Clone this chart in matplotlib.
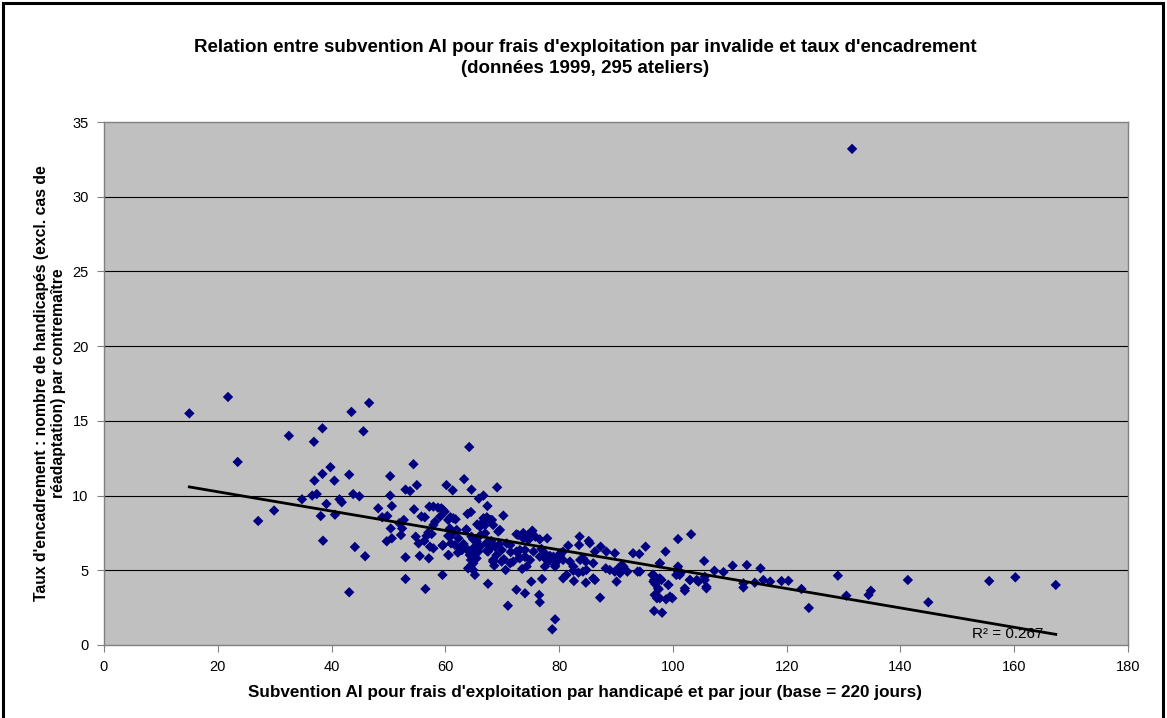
import numpy as np
import matplotlib
matplotlib.use("Agg")
import matplotlib.pyplot as plt
from matplotlib.patches import Rectangle

plt.rcParams['font.family'] = ['Liberation Sans', 'DejaVu Sans']

title = "Relation entre subvention AI pour frais d'exploitation par invalide et taux d'encadrement\n(données 1999, 295 ateliers)"
xlabel = "Subvention AI pour frais d'exploitation par handicapé et par jour (base = 220 jours)"
ylabel = "Taux d'encadrement : nombre de handicapés (excl. cas de\nréadaptation) par contremaître"
r2_label = "R² = 0.267"
x_ticks = [0, 20, 40, 60, 80, 100, 120, 140, 160, 180]
y_ticks = [0, 5, 10, 15, 20, 25, 30, 35]

subvention = [
    15.0, 21.8, 23.5, 27.1, 29.9, 32.5, 36.9, 38.4, 43.5, 46.6, 45.6, 39.8, 38.4, 37.0, 40.5, 43.1,
    34.8, 36.6, 37.4, 39.1, 41.4, 41.8, 43.8, 44.9, 38.1, 40.6, 38.5, 44.1, 45.9, 43.1, 131.5,
    64.2, 54.4, 50.3, 63.3, 53.0, 53.8, 55.0, 60.2, 61.3, 64.6, 69.1, 50.3, 65.9, 66.7, 67.4,
    48.2, 50.6, 54.5, 57.2, 58.7, 59.6, 63.9, 64.5, 70.2, 48.9, 49.8, 59.1, 52.7, 51.9, 55.8,
    56.4, 60.9, 61.8, 67.3, 68.2, 66.4, 58.2, 57.9, 50.4, 52.4, 52.2, 60.8, 62.0, 63.7, 65.6,
    66.1, 69.6, 72.5, 73.7, 75.3, 74.5, 76.6, 77.9, 49.7, 50.6, 54.8, 56.7, 57.0, 57.6, 55.3,
    56.3, 57.3, 59.5, 60.5, 61.2, 61.0, 63.2, 62.7, 63.7, 64.9, 65.5, 66.2, 67.0, 67.4, 68.1,
    68.7, 69.5, 70.8, 53.0, 55.5, 57.1, 60.6, 62.2, 62.9, 64.3, 65.2, 65.8, 64.5, 64.9, 64.0,
    64.9, 65.2, 67.3, 68.1, 68.4, 68.6, 70.3, 70.6, 71.5, 71.9, 73.0, 74.0, 74.9, 73.5, 75.5,
    76.9, 77.6, 78.4, 79.6, 77.5, 79.3, 53.0, 59.5, 56.5, 67.5, 72.5, 74.0, 75.1, 77.0, 76.5,
    76.6, 71.0, 79.3, 78.8,
    83.6, 83.5, 85.2, 85.4, 87.3, 89.8, 88.3, 86.3, 81.6, 80.2, 80.7, 79.3, 81.9, 82.5, 83.7,
    84.2, 84.7, 86.0, 82.5, 83.4, 84.2, 84.8, 80.7, 81.3, 82.6, 84.7, 86.0, 86.3, 87.2, 88.2,
    88.9, 89.8, 90.4, 91.0, 91.3, 92.0, 90.1, 90.7, 93.0, 94.1, 95.2, 93.8, 94.2, 98.7, 97.7,
    100.9, 103.2, 96.4, 96.7, 96.9, 98.0, 97.5, 99.2, 97.2, 98.8, 99.9, 96.7, 98.1, 100.9, 100.6,
    101.4, 102.1, 103.0, 104.2, 105.5, 105.6, 105.9, 107.3, 108.9, 110.5, 113.0, 112.4, 112.4, 115.4,
    114.4, 115.9, 117.1, 119.1, 120.3, 122.6, 123.9, 129.0, 130.5, 134.4, 134.8, 141.3, 144.9,
    155.6, 160.2, 167.3,
    57.9, 59.3, 59.9, 61.4, 60.5, 66.7, 67.9, 67.0, 66.1, 68.4, 69.3, 63.7, 62.3, 60.8, 61.7,
    59.6, 60.5, 57.9, 62.9, 64.6, 65.5, 64.9, 66.1, 67.2, 68.1, 67.5, 69.0, 69.9, 71.4, 72.5,
    74.0, 72.8, 73.7, 64.3, 65.5, 64.6, 68.4, 69.9, 71.4, 73.1, 74.3,
    96.6, 97.7, 96.6, 97.7, 97.4, 99.2, 96.8, 100.9, 101.2, 102.1, 103.0, 104.5, 105.6, 105.9,
    99.5, 97.7,
    73.7, 75.2, 75.8, 74.6, 73.1, 74.0, 76.6, 77.5, 78.1, 79.0, 80.2, 80.7,
]

taux = [
    15.5, 16.6, 12.25, 8.3, 9.0, 14.0, 13.6, 14.5, 15.6, 16.2, 14.3, 11.9, 11.45, 11.0, 11.0, 11.4,
    9.75, 10.0, 10.1, 9.44, 9.75, 9.55, 10.1, 9.95, 8.63, 8.72, 6.98, 6.56, 5.94, 3.53, 33.2,
    13.25, 12.1, 11.3, 11.1, 10.4, 10.3, 10.7, 10.7, 10.35, 10.4, 10.55, 10.0, 9.8, 10.0, 9.3,
    9.15, 9.3, 9.08, 9.26, 9.19, 9.04, 8.77, 8.9, 8.66, 8.55, 8.63, 8.6, 8.37, 8.15, 8.6,
    8.55, 8.55, 8.41, 8.55, 8.37, 8.15, 8.25, 8.03, 7.8, 7.8, 7.36, 7.8, 7.7, 7.74, 8.07,
    7.96, 7.7, 7.41, 7.48, 7.65, 7.36, 7.07, 7.14, 6.94, 7.14, 7.25, 7.3, 7.52, 7.43, 6.8,
    6.96, 6.58, 6.65, 7.3, 7.43, 6.8, 6.76, 6.51, 6.47, 7.07, 6.92, 7.36, 7.48, 6.8, 6.96,
    6.58, 6.74, 6.8, 5.87, 5.96, 5.8, 6.02, 6.18, 6.36, 6.18, 6.09, 6.25, 5.69, 5.47, 5.13,
    5.02, 4.69, 6.31, 6.58, 5.69, 5.31, 5.74, 5.02, 6.22, 5.58, 5.84, 5.91, 5.69, 5.09, 6.25,
    6.43, 5.76, 5.96, 5.58, 5.25, 5.25, 4.42, 4.69, 3.75, 4.1, 3.7, 3.46, 4.24, 4.42, 3.35,
    2.86, 2.63, 1.72, 1.05,
    7.25, 6.69, 6.96, 6.81, 6.58, 6.14, 6.25, 6.25, 6.65, 6.14, 5.69, 5.35, 5.58, 5.25, 5.69,
    5.8, 5.58, 5.47, 4.97, 4.84, 4.91, 5.02, 4.46, 4.69, 4.28, 4.17, 4.46, 4.35, 3.17, 5.13,
    5.02, 4.91, 5.13, 5.35, 5.25, 4.91, 4.24, 4.8, 6.14, 6.09, 6.58, 4.91, 4.91, 6.25, 5.47,
    7.09, 7.41, 4.69, 4.35, 4.08, 4.35, 3.73, 4.02, 3.13, 3.06, 3.13, 2.28, 2.16, 5.25, 4.69,
    4.84, 3.63, 4.35, 4.35, 5.62, 4.57, 3.9, 4.97, 4.88, 5.31, 5.35, 3.85, 4.13, 5.13,
    4.17, 4.35, 4.24, 4.28, 4.3, 3.75, 2.48, 4.64, 3.3, 3.35, 3.63, 4.35, 2.86,
    4.28, 4.53, 4.02,
    9.26, 9.15, 8.92, 8.48, 8.37, 8.48, 8.37, 8.03, 7.92, 8.03, 7.59, 7.7, 7.14, 7.25, 6.69,
    6.69, 6.02, 6.47, 6.36, 7.25, 6.92, 6.47, 6.58, 6.81, 6.58, 6.25, 6.02, 6.36, 6.69, 6.25,
    6.36, 7.36, 7.14, 6.02, 5.8, 5.35, 5.58, 5.58, 5.47, 5.8, 5.25,
    4.69, 5.47, 4.24, 4.46, 3.79, 4.02, 3.35, 4.91, 4.69, 3.79, 4.35, 4.24, 4.35, 3.79,
    3.24, 3.13,
    7.48, 7.59, 7.25, 7.03, 6.36, 5.91, 5.91, 6.14, 5.58, 5.91, 6.02, 6.25,
]

x = np.array(subvention)
y = np.array(taux)

fig = plt.figure(figsize=(11.67, 7.18), dpi=100)
ax = fig.add_axes([104/1167, 1 - 645/718, (1128-104)/1167, (645-122)/718])
ax.set_facecolor('#C0C0C0')

for yt in y_ticks[1:-1]:
    ax.axhline(yt, color='black', lw=0.8, zorder=1)

ax.scatter(x, y, marker='D', s=28, color='#000080', edgecolors='none', zorder=3)

slope, intercept = np.polyfit(x, y, 1)
xl = np.array([x.min(), x.max()])
ax.plot(xl, slope * xl + intercept, color='black', lw=2.0, zorder=4)

ax.text(152.6, 0.45, r2_label, fontsize=11, color='black', zorder=5)

ax.set_xlim(0, 180)
ax.set_ylim(0, 35)
ax.set_xticks(x_ticks)
ax.set_yticks(y_ticks)
ax.tick_params(direction='out', length=5, width=0.8, color='#808080', labelsize=10.5, pad=6)
for s in ax.spines.values():
    s.set_color('#808080')
    s.set_linewidth(1.0)

fig.text(585/1167, 1 - 58/718, title, ha='center', va='center', fontsize=13.5,
         fontweight='bold', linespacing=1.35)
fig.text(585/1167, 1 - 692/718, xlabel, ha='center', va='center', fontsize=12.3, fontweight='bold')
fig.text(50/1167, 1 - 383.5/718, ylabel, ha='center', va='center', rotation=90,
         fontsize=11.3, fontweight='bold', linespacing=1.2)

fig.patches.append(Rectangle((3/1167, -0.05), 1160/1167, 1 - 3/718 + 0.05,
                             transform=fig.transFigure, fill=False, edgecolor='black', lw=2.2))

fig.savefig('out.png', dpi=100, facecolor='white')
